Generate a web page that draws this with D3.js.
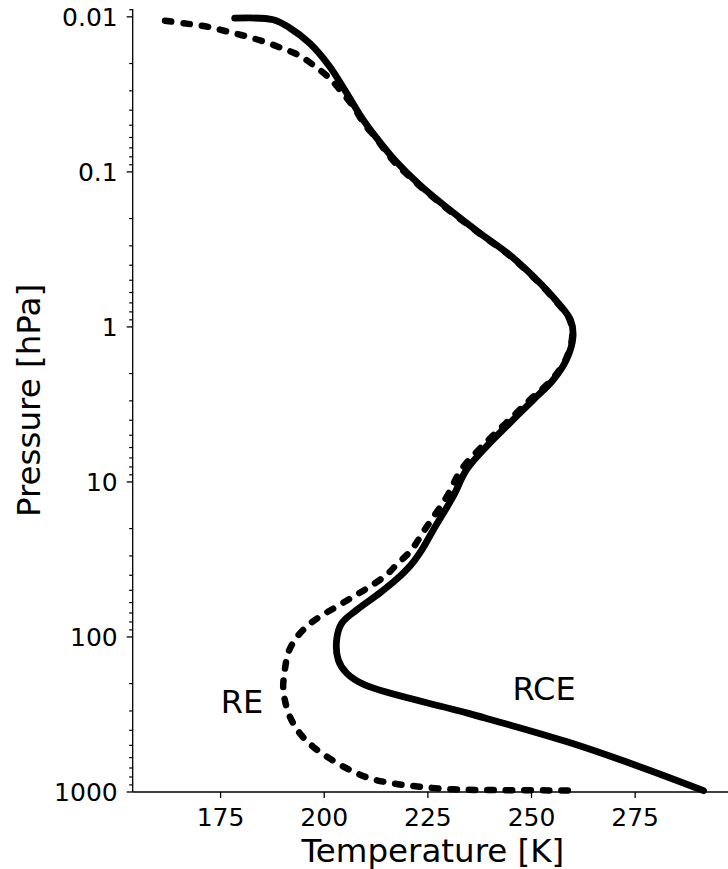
<!DOCTYPE html>
<html>
<head>
<meta charset="utf-8">
<script src="https://cdn.jsdelivr.net/npm/d3@7"></script>
<style>
  html, body { margin: 0; padding: 0; background: #fff; }
  svg { display: block; font-family: "DejaVu Sans", sans-serif; }
</style>
</head>
<body>
<svg id="chart" width="728" height="869"></svg>
<script>
// Radiative-convective equilibrium (RCE) profile: pressure [hPa] and temperature [K]
const rcePressure = [0.0102, 0.01045, 0.0118, 0.0148, 0.0209, 0.031, 0.0462, 0.0622, 0.0838, 0.121,
  0.176, 0.248, 0.343, 0.483, 0.67, 0.90, 1.16, 1.63, 2.20, 2.96, 4.18, 5.92, 8.37, 12.4,
  20.4, 27.5, 34.3, 42.8, 52, 67, 81.7, 104, 141, 171, 204, 310, 473, 679, 980];
const rceTemperature = [178.4, 187.7, 191.7, 196.5, 201.3, 205.4, 209.4, 213.0, 217.0, 223.0,
  230.3, 237.5, 244.7, 250.8, 255.8, 259.4, 260.0, 258.4, 255.2, 250.4, 244.7, 239.1, 234.3, 231.1,
  226.3, 223.5, 220.9, 217.3, 213.4, 207.8, 204.2, 203.0, 203.4, 205.4, 209.8, 234.6, 258.4, 275.6, 291.5];

// Pure radiative equilibrium (RE) profile
const rePressure = [0.0106, 0.0111, 0.0116, 0.0124, 0.0133, 0.0144, 0.0159, 0.0176, 0.0204, 0.0249,
  0.0296, 0.0379, 0.0498, 0.0592, 0.0838, 0.121, 0.176, 0.248, 0.343, 0.483, 0.67, 0.90, 1.16, 1.63,
  2.20, 2.96, 4.18, 5.92, 8.37, 12.4, 20.4, 27.5, 34.3, 39.8, 47.3, 54.9, 63.8, 74.0, 85.9, 104.5, 127,
  163, 209, 255, 326, 418, 510, 607, 722, 817, 880, 925, 961, 971, 977];
const reTemperature = [161.6, 167.2, 172.0, 176.4, 180.9, 185.3, 189.7, 193.7, 197.3, 201.3,
  203.8, 207.0, 209.8, 212.2, 216.5, 222.7, 230.0, 237.3, 244.5, 250.6, 255.6, 259.2, 259.8, 258.2,
  254.8, 249.6, 243.8, 238.0, 233.0, 229.6, 224.2, 221.0, 217.4, 215.0, 211.0, 207.0, 203.0, 198.9, 195.7, 192.9, 191.3,
  190.5, 190.1, 190.5, 191.7, 194.1, 197.3, 201.3, 206.2, 211.0, 216.6, 223.0, 231.1, 239.1, 259.4];

const xTicks = [175, 200, 225, 250, 275];
const yTicks = [0.01, 0.1, 1, 10, 100, 1000];
const yTickLabels = ["0.01", "0.1", "1", "10", "100", "1000"];

const svg = d3.select("#chart");
const plotLeft = 132.7, plotRight = 733, plotTop = 9, plotBottom = 792;

const x = d3.scaleLinear().domain([153.8, 298.6]).range([plotLeft, plotRight]);
const y = d3.scaleLog().domain([0.0089, 1000]).range([plotTop, plotBottom]);

// minor log ticks on the pressure axis
const minor = [];
for (let d = -3; d <= 2; d++) {
  for (let m = 2; m <= 9; m++) {
    const v = m * Math.pow(10, d);
    if (v >= y.domain()[0] && v <= y.domain()[1]) minor.push(v);
  }
}

const yAxis = svg.append("g").attr("transform", `translate(${plotLeft},0)`);
yAxis.selectAll("line.minor").data(minor).join("line")
  .attr("class", "minor")
  .attr("x1", -3.5).attr("x2", 0)
  .attr("y1", d => y(d)).attr("y2", d => y(d))
  .attr("stroke", "#000").attr("stroke-width", 1.2);
yAxis.selectAll("line.major").data(yTicks).join("line")
  .attr("class", "major")
  .attr("x1", -6).attr("x2", 0)
  .attr("y1", d => y(d)).attr("y2", d => y(d))
  .attr("stroke", "#000").attr("stroke-width", 1.3);
yAxis.selectAll("text").data(yTicks).join("text")
  .attr("x", -15).attr("y", d => y(d))
  .attr("dy", "0.36em")
  .attr("text-anchor", "end")
  .attr("font-size", 25)
  .text((d, i) => yTickLabels[i]);
yAxis.append("line").attr("x1", 0).attr("x2", 0).attr("y1", plotTop).attr("y2", plotBottom)
  .attr("stroke", "#000").attr("stroke-width", 1.3);

const xAxis = svg.append("g").attr("transform", `translate(0,${plotBottom})`);
xAxis.selectAll("line").data(xTicks).join("line")
  .attr("x1", d => x(d)).attr("x2", d => x(d))
  .attr("y1", 0).attr("y2", 6)
  .attr("stroke", "#000").attr("stroke-width", 1.3);
xAxis.selectAll("text").data(xTicks).join("text")
  .attr("x", d => x(d)).attr("y", 34)
  .attr("text-anchor", "middle")
  .attr("font-size", 25)
  .text(d => d);
xAxis.append("line").attr("x1", plotLeft).attr("x2", plotRight).attr("y1", 0).attr("y2", 0)
  .attr("stroke", "#000").attr("stroke-width", 1.3);

// axis titles
svg.append("text")
  .attr("x", (plotLeft + plotRight) / 2).attr("y", 862)
  .attr("text-anchor", "middle").attr("font-size", 32.5)
  .text("Temperature [K]");
svg.append("text")
  .attr("transform", `translate(40,${(plotTop + plotBottom) / 2}) rotate(-90)`)
  .attr("text-anchor", "middle").attr("font-size", 32.5)
  .text("Pressure [hPa]");

// profiles
const line = d3.line()
  .x(d => x(d[1]))
  .y(d => y(d[0]))
  .curve(d3.curveCatmullRom.alpha(0.5));

const rce = rcePressure.map((p, i) => [p, rceTemperature[i]]);
const re = rePressure.map((p, i) => [p, reTemperature[i]]);

svg.append("path").datum(re)
  .attr("d", line)
  .attr("fill", "none").attr("stroke", "#000")
  .attr("stroke-width", 6.5)
  .attr("stroke-linecap", "round")
  .attr("stroke-dasharray", "6.5,12");

svg.append("path").datum(rce)
  .attr("d", line)
  .attr("fill", "none").attr("stroke", "#000")
  .attr("stroke-width", 6.8)
  .attr("stroke-linecap", "round")
  .attr("stroke-linejoin", "round");

// curve labels
svg.append("text").attr("x", 242).attr("y", 713)
  .attr("text-anchor", "middle").attr("font-size", 32).text("RE");
svg.append("text").attr("x", 544).attr("y", 700)
  .attr("text-anchor", "middle").attr("font-size", 32).text("RCE");
</script>
</body>
</html>
